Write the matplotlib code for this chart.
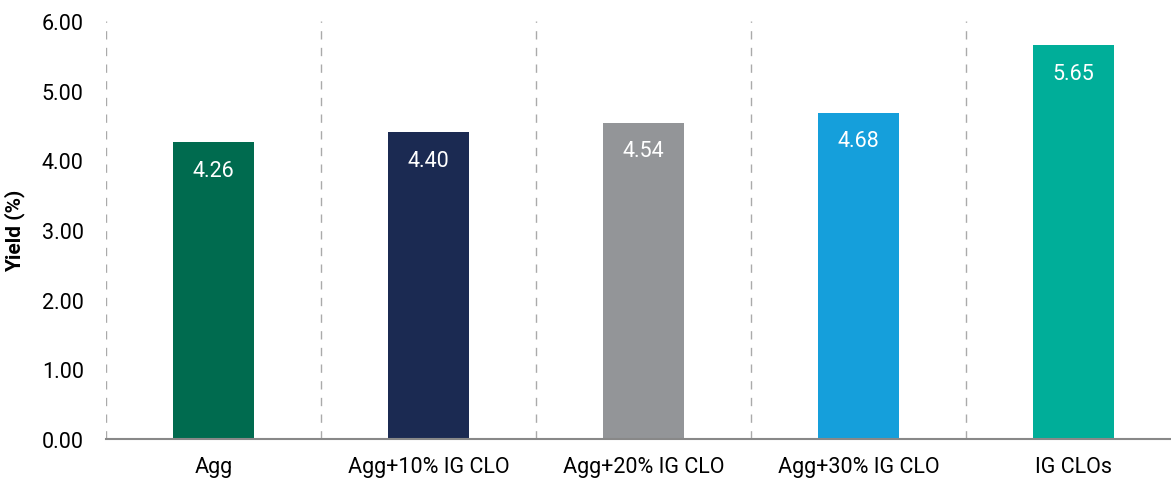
import matplotlib
matplotlib.use("Agg")
import matplotlib.pyplot as plt

categories = ["Agg", "Agg+10% IG CLO", "Agg+20% IG CLO", "Agg+30% IG CLO", "IG CLOs"]
yields = [4.26, 4.40, 4.54, 4.68, 5.65]
colors = ["#006B4F", "#1B2A52", "#939598", "#159FDB", "#00AE99"]
yticks = [0, 1, 2, 3, 4, 5, 6]

plt.rcParams["font.family"] = ["Roboto", "DejaVu Sans"]

fig = plt.figure(figsize=(11.71, 4.85), dpi=100)
ax = fig.add_axes([0.0905, 0.0928, 0.9095, 0.8618])

x = list(range(len(categories)))
ax.bar(x, yields, width=0.38, color=colors, zorder=3)

for xi, v in zip(x, yields):
    ax.annotate(f"{v:.2f}", (xi, v), xytext=(0, -20), textcoords="offset points",
                ha="center", va="center", color="white", fontsize=15.5, zorder=4)

# dashed separators between categories
for b in [-0.5, 0.5, 1.5, 2.5, 3.5]:
    ax.axvline(b, color="#AAAAAA", linestyle=(0, (6, 6)), linewidth=1, zorder=1)

ax.set_xlim(-0.5, 4.453)
ax.set_ylim(0, 6)
ax.set_yticks(yticks)
ax.set_yticklabels([f"{t:.2f}" for t in yticks], fontsize=15.5)
ax.set_xticks(x)
ax.set_xticklabels(categories, fontsize=15.5)
ax.tick_params(axis="x", length=0, pad=12)
ax.tick_params(axis="y", length=0, pad=16)
ax.set_ylabel("Yield (%)", fontsize=15, fontweight="bold", labelpad=12)

for s in ["top", "right", "left"]:
    ax.spines[s].set_visible(False)
ax.spines["bottom"].set_color("#888888")
ax.spines["bottom"].set_linewidth(1.5)
ax.spines["bottom"].set_zorder(5)

fig.savefig("out.png", dpi=100)
